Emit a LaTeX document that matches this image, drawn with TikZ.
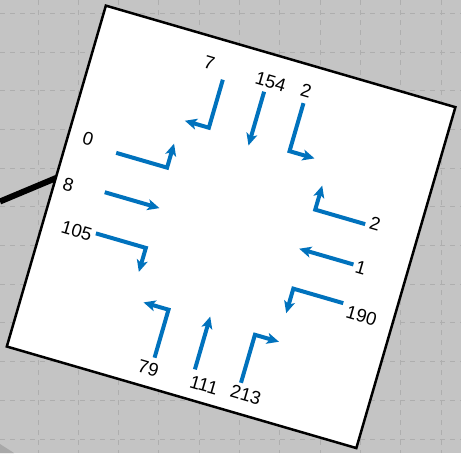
\documentclass[tikz,border=0pt]{standalone}
\usepackage{fontspec}
\setmainfont{Liberation Sans}
\usetikzlibrary{arrows.meta}
\definecolor{mblue}{RGB}{0,114,189}
\definecolor{bgc}{RGB}{196,196,196}
\definecolor{gridc}{RGB}{174,174,174}
\definecolor{shadec}{RGB}{168,168,168}
\begin{document}
\begin{tikzpicture}[x=1pt,y=-1pt,
  mv/.style={draw=mblue, line width=4pt, line join=miter, -{Stealth[length=12pt,width=11pt,inset=3pt]}},
  cnt/.style={font=\fontsize{18.5}{18.5}\selectfont, inner sep=0pt, transform shape},
  gridln/.style={draw=gridc, line width=1pt, dash pattern=on 5pt off 5pt},
  panel/.style={draw=black, line width=2.5pt, fill=white, inner sep=0pt, minimum width=364pt, minimum height=355pt, transform shape},
  feedln/.style={draw=black, line width=6pt}]
\fill[bgc] (0,0) rectangle (461,453);
\useasboundingbox (0,0) rectangle (461,453);
\foreach \x in {38,78.3,...,442} \draw[gridln] (\x,0) -- (\x,453);
\foreach \y in {13.3,52,...,445} \draw[gridln] (0,\y) -- (461,\y);
\fill[shadec] (0,444) -- (14,453) -- (0,453) -- cycle;
\coordinate (feed) at (0,201.5);
\coordinate (lend) at (59.7,176.5);
\draw[feedln] (feed) -- (lend);
\begin{scope}[shift={(231.1,226.85)}, rotate=-16.2]
\node[panel] (sq) at (0,0) {};
% north approach
\draw[mv] (-49,-139) -- (-49,-89) -- (-74,-89);
\draw[mv] (-6,-139) -- (-6,-83);
\draw[mv] (35,-139) -- (35,-89) -- (61,-89);
% west approach
\draw[mv] (-131,-39) -- (-78,-39) -- (-78,-64);
\draw[mv] (-131,2) -- (-74,2);
\draw[mv] (-128,44) -- (-76,44) -- (-76,69);
% east approach
\draw[mv] (128,-40) -- (76,-40) -- (76,-65);
\draw[mv] (128,2) -- (71.5,2);
\draw[mv] (129,42) -- (77,42) -- (77,67.5);
% south approach
\draw[mv] (-37,147) -- (-37,97) -- (-63,97);
\draw[mv] (5,147) -- (5,92);
\draw[mv] (53,147) -- (53,97) -- (78,97);
% labels
\node[cnt] (l7) at (-66.5,-151) {7};
\node[cnt] (l154) at (-2.5,-150.4) {154};
\node[cnt] (l2n) at (34,-151.7) {2};
\node[cnt] (l0) at (-162,-45) {0};
\node[cnt] (l8) at (-168,5.2) {8};
\node[cnt] (l105) at (-147,47) {105};
\node[cnt] (l2e) at (137.4,-42.9) {2};
\node[cnt] (l1) at (136,3) {1};
\node[cnt] (l190) at (150,49) {190};
\node[cnt] (l79) at (-40,159) {79};
\node[cnt] (l111) at (18,159.4) {111};
\node[cnt] (l213) at (61,157.3) {213};
\end{scope}
\end{tikzpicture}
\end{document}
